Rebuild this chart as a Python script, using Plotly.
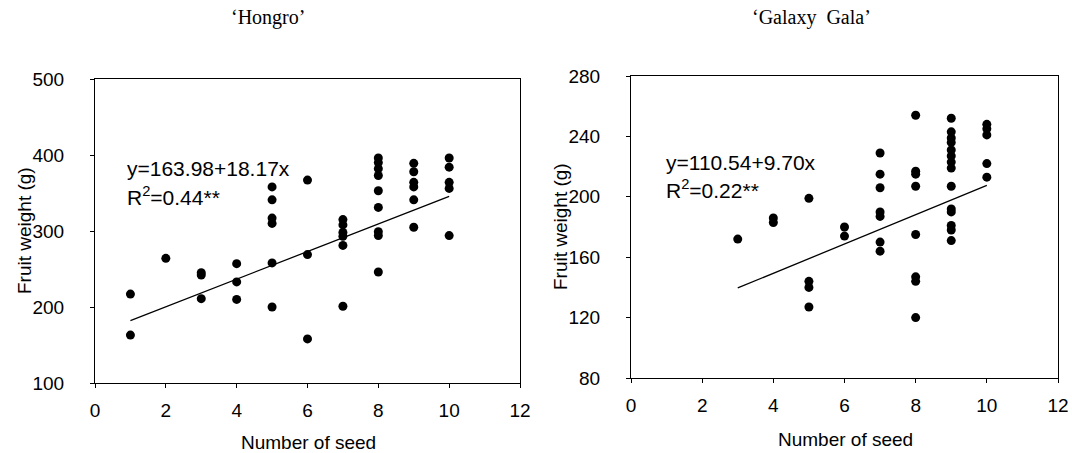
import plotly.graph_objects as go

# ---- data ----
hongro_seed = [1, 1,
               2,
               3, 3, 3,
               4, 4, 4,
               5, 5, 5, 5, 5, 5,
               6, 6, 6,
               7, 7, 7, 7, 7, 7,
               8, 8, 8, 8, 8, 8, 8, 8, 8,
               9, 9, 9, 9, 9, 9,
               10, 10, 10, 10, 10]
hongro_weight = [217, 163,
                 264,
                 245, 242, 211,
                 257, 233, 210,
                 358, 341, 317, 310, 258, 200,
                 367, 269, 158,
                 315, 308, 298, 293, 281, 201,
                 396, 390, 382, 373, 353, 331, 299, 294, 246,
                 389, 378, 364, 358, 341, 305,
                 396, 384, 364, 356, 294]

gala_seed = [3,
             4, 4,
             5, 5, 5, 5,
             6, 6,
             7, 7, 7, 7, 7, 7, 7,
             8, 8, 8, 8, 8, 8, 8, 8,
             9, 9, 9, 9, 9, 9, 9, 9, 9, 9, 9, 9, 9, 9,
             10, 10, 10, 10, 10]
gala_weight = [172,
               186, 183,
               199, 144, 140, 127,
               180, 174,
               229, 215, 206, 190, 187, 170, 164,
               254, 217, 215, 207, 175, 147, 144, 120,
               252, 243, 239, 236, 231, 227, 223, 219, 207, 192, 190, 181, 178, 171,
               248, 245, 241, 222, 213]

hongro_coef = (163.98, 18.17)   # intercept, slope
gala_coef = (110.54, 9.70)
hongro_eq = "y=163.98+18.17x"
hongro_r2 = "R<sup>2</sup>=0.44**"
gala_eq = "y=110.54+9.70x"
gala_r2 = "R<sup>2</sup>=0.22**"

x_ticks = [0, 2, 4, 6, 8, 10, 12]
hongro_yticks = [100, 200, 300, 400, 500]
gala_yticks = [80, 120, 160, 200, 240, 280]

titles = ["\u2018Hongro\u2019", "\u2018Galaxy  Gala\u2019"]
x_title = "Number of seed"
y_title = "Fruit weight (g)"

W, H = 1072, 453
SANS = "Liberation Sans, Arial, sans-serif"
SERIF = "Liberation Serif, Times New Roman, serif"


def fx(px):
    return px / W


def fy(py):
    return 1 - py / H


fig = go.Figure()

marker = dict(color="black", size=9, symbol="circle", line=dict(width=0))
fig.add_trace(go.Scatter(x=hongro_seed, y=hongro_weight, mode="markers",
                         marker=marker, xaxis="x", yaxis="y", showlegend=False))
fig.add_trace(go.Scatter(x=gala_seed, y=gala_weight, mode="markers",
                         marker=marker, xaxis="x2", yaxis="y2", showlegend=False))

for seeds, coef, xa, ya in [(hongro_seed, hongro_coef, "x", "y"),
                            (gala_seed, gala_coef, "x2", "y2")]:
    x0, x1 = min(seeds), max(seeds)
    fig.add_trace(go.Scatter(x=[x0, x1], y=[coef[0] + coef[1] * x0, coef[0] + coef[1] * x1],
                             mode="lines", line=dict(color="black", width=1.3),
                             xaxis=xa, yaxis=ya, showlegend=False))

axis_common = dict(showline=True, linecolor="black", linewidth=1, mirror=True,
                   ticks="outside", ticklen=4, tickcolor="black", tickwidth=1,
                   showgrid=False, zeroline=False, automargin=False,
                   tickfont=dict(family=SANS, size=19, color="black"))

fig.update_layout(
    width=W, height=H,
    margin=dict(l=0, r=0, t=0, b=0, pad=0),
    paper_bgcolor="white", plot_bgcolor="white",
    xaxis=dict(domain=[fx(95), fx(520)], range=[0, 12], tickvals=x_ticks,
               anchor="y", ticklabelstandoff=6, **axis_common),
    yaxis=dict(domain=[fy(383), fy(79)], range=[100, 500], tickvals=hongro_yticks,
               anchor="x", ticklabelstandoff=22, **axis_common),
    xaxis2=dict(domain=[fx(631), fx(1058)], range=[0, 12], tickvals=x_ticks,
                anchor="y2", ticklabelstandoff=6, **axis_common),
    yaxis2=dict(domain=[fy(378), fy(76)], range=[80, 280], tickvals=gala_yticks,
                anchor="x2", ticklabelstandoff=22, **axis_common),
)

ann = []
# panel titles
ann.append(dict(text=titles[0], x=fx(268), y=fy(18), xref="paper", yref="paper",
                showarrow=False, xanchor="center", yanchor="middle",
                font=dict(family=SERIF, size=20, color="black")))
ann.append(dict(text=titles[1], x=fx(811), y=fy(18), xref="paper", yref="paper",
                showarrow=False, xanchor="center", yanchor="middle",
                font=dict(family=SERIF, size=20, color="black")))
# axis titles
for cx, cy in [(308, 442), (845, 439)]:
    ann.append(dict(text=x_title, x=fx(cx), y=fy(cy), xref="paper", yref="paper",
                    showarrow=False, xanchor="center", yanchor="middle",
                    font=dict(family=SANS, size=19, color="black")))
for cx, cy in [(24, 231), (560, 227)]:
    ann.append(dict(text=y_title, x=fx(cx), y=fy(cy), xref="paper", yref="paper",
                    showarrow=False, xanchor="center", yanchor="middle", textangle=-90,
                    font=dict(family=SANS, size=19, color="black")))
# regression equations
for txt, cx, cy in [(hongro_eq, 125, 168), (hongro_r2, 125, 196),
                    (gala_eq, 664, 162), (gala_r2, 664, 189)]:
    ann.append(dict(text=txt, x=fx(cx), y=fy(cy), xref="paper", yref="paper",
                    showarrow=False, xanchor="left", yanchor="middle",
                    font=dict(family=SANS, size=21, color="black")))

fig.update_layout(annotations=ann)
fig.write_html(
    "out.html",
    config={"displayModeBar": False},
    post_script="document.body.style.margin='0px';document.body.style.padding='0px';"
                "document.body.style.overflow='hidden';",
)
